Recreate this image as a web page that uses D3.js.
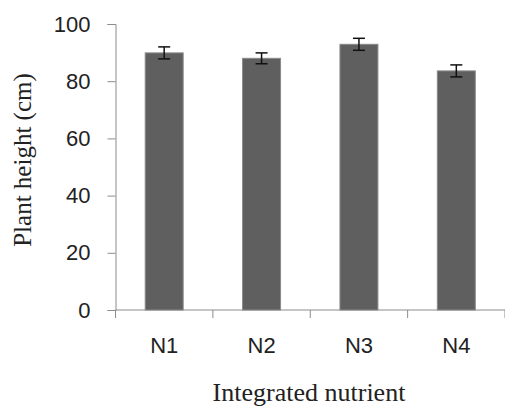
<!DOCTYPE html>
<html>
<head>
<meta charset="utf-8">
<script src="https://cdn.jsdelivr.net/npm/d3@7"></script>
<style>
  body { margin: 0; background: #fff; }
  svg { display: block; }
</style>
</head>
<body>
<div id="chart"></div>
<script>
// Datos del gráfico
var categories = ["N1", "N2", "N3", "N4"];
var heights = [89.9, 88.0, 92.9, 83.6];
var errors = [2.1, 1.9, 2.1, 2.1];
var yTicks = [0, 20, 40, 60, 80, 100];

var width = 505, height = 408;
var marginLeft = 115.5, marginRight = 505, marginTop = 24, marginBottom = 310;

var svg = d3.select("#chart").append("svg")
    .attr("width", width)
    .attr("height", height);

var x = d3.scaleBand()
    .domain(categories)
    .range([marginLeft, marginRight])
    .padding(0);

var y = d3.scaleLinear()
    .domain([0, 100])
    .range([marginBottom, marginTop]);

var barWidth = x.bandwidth() * 0.39;

// Eje Y
var yAxis = svg.append("g")
    .attr("transform", "translate(" + marginLeft + ",0)")
    .call(d3.axisLeft(y).tickValues(yTicks).tickSize(8).tickPadding(17));
yAxis.select(".domain").attr("stroke", "#8c8c8c");
yAxis.selectAll(".tick line").attr("stroke", "#8c8c8c");
yAxis.selectAll(".tick text")
    .attr("font-family", "Liberation Sans, Arial, sans-serif")
    .attr("font-size", "22px")
    .attr("fill", "#222");

// Eje X: marcas en los bordes de las bandas
var xAxis = svg.append("g")
    .attr("transform", "translate(0," + marginBottom + ")");
xAxis.append("line")
    .attr("x1", marginLeft).attr("x2", marginRight)
    .attr("stroke", "#8c8c8c");
xAxis.selectAll("line.edge")
    .data(categories.concat(["end"]))
    .enter().append("line")
    .attr("class", "edge")
    .attr("x1", (d, i) => marginLeft + i * x.step())
    .attr("x2", (d, i) => marginLeft + i * x.step())
    .attr("y1", 0).attr("y2", 8)
    .attr("stroke", "#8c8c8c");
xAxis.selectAll("text")
    .data(categories)
    .enter().append("text")
    .attr("x", d => x(d) + x.bandwidth() / 2)
    .attr("y", 43)
    .attr("text-anchor", "middle")
    .attr("font-family", "Liberation Sans, Arial, sans-serif")
    .attr("font-size", "22px")
    .attr("fill", "#222")
    .text(d => d);

// Barras
svg.selectAll("rect.bar")
    .data(categories)
    .enter().append("rect")
    .attr("class", "bar")
    .attr("x", (d, i) => x(d) + (x.bandwidth() - barWidth) / 2)
    .attr("y", (d, i) => y(heights[i]))
    .attr("width", barWidth)
    .attr("height", (d, i) => y(0) - y(heights[i]))
    .attr("fill", "#5f5f5f")
    .attr("stroke", "#8a8a8a")
    .attr("stroke-width", 1);

// Barras de error
var eb = svg.selectAll("g.err")
    .data(categories)
    .enter().append("g")
    .attr("class", "err")
    .attr("stroke", "#111")
    .attr("stroke-width", 1.5);
eb.append("line")
    .attr("x1", d => x(d) + x.bandwidth() / 2)
    .attr("x2", d => x(d) + x.bandwidth() / 2)
    .attr("y1", (d, i) => y(heights[i] + errors[i]))
    .attr("y2", (d, i) => y(heights[i] - errors[i]));
eb.append("line")
    .attr("x1", d => x(d) + x.bandwidth() / 2 - 6)
    .attr("x2", d => x(d) + x.bandwidth() / 2 + 6)
    .attr("y1", (d, i) => y(heights[i] + errors[i]))
    .attr("y2", (d, i) => y(heights[i] + errors[i]));
eb.append("line")
    .attr("x1", d => x(d) + x.bandwidth() / 2 - 6)
    .attr("x2", d => x(d) + x.bandwidth() / 2 + 6)
    .attr("y1", (d, i) => y(heights[i] - errors[i]))
    .attr("y2", (d, i) => y(heights[i] - errors[i]));

// Títulos de los ejes
svg.append("text")
    .attr("transform", "translate(31,160) rotate(-90)")
    .attr("text-anchor", "middle")
    .attr("font-family", "Liberation Serif, Times New Roman, serif")
    .attr("font-size", "25px")
    .attr("fill", "#222")
    .text("Plant height (cm)");

svg.append("text")
    .attr("x", 309)
    .attr("y", 401)
    .attr("text-anchor", "middle")
    .attr("font-family", "Liberation Serif, Times New Roman, serif")
    .attr("font-size", "26px")
    .attr("fill", "#222")
    .text("Integrated nutrient");
</script>
</body>
</html>
